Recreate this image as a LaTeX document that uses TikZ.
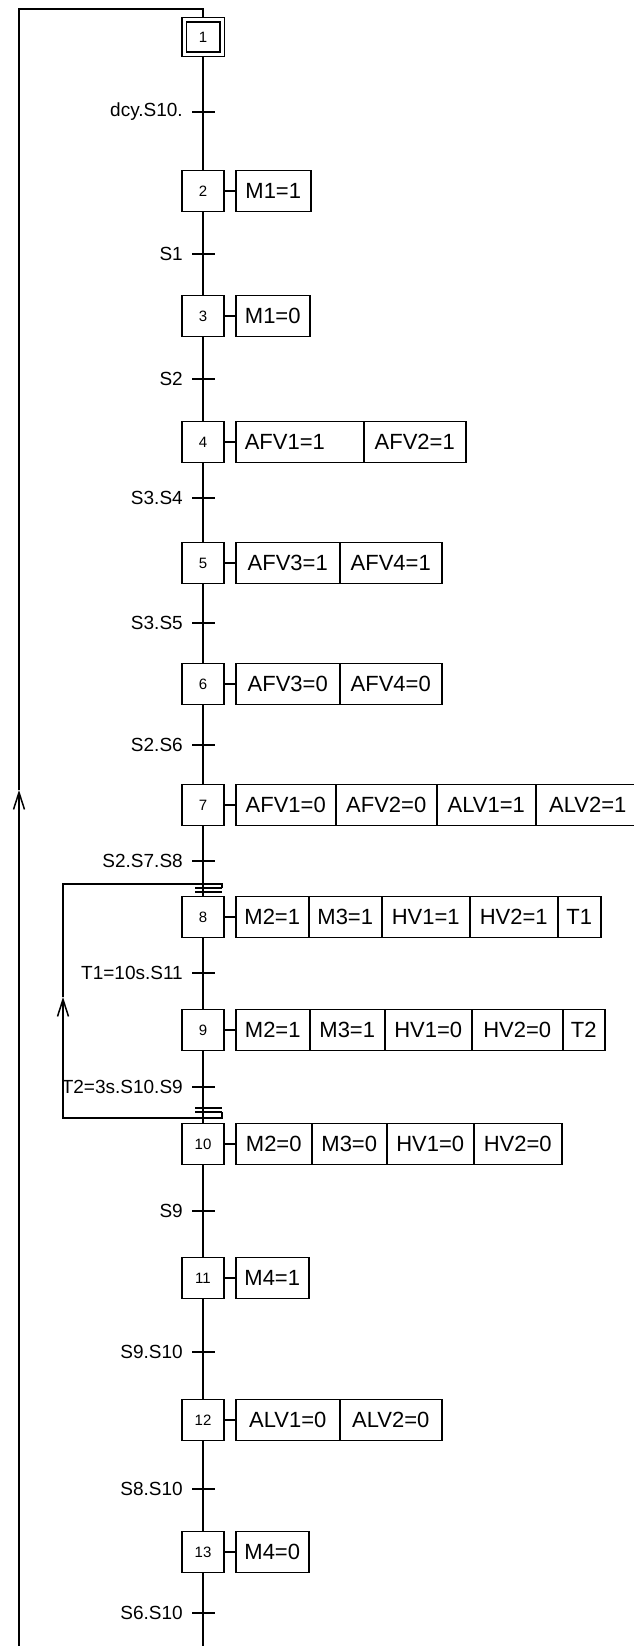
\documentclass[tikz,border=0pt]{standalone}
\usepackage{fontspec}
\setmainfont{Liberation Sans}
\usepackage{tikz}
\usetikzlibrary{arrows.meta,positioning}

\begin{document}
\begin{tikzpicture}[x=1pt, y=-1pt, line width=1.5pt,
    stepbox/.style={draw, line width=1.5pt, minimum width=42pt, minimum height=41pt, inner sep=0pt, font=\fontsize{15}{15}\selectfont},
    initbox/.style={stepbox, double, double distance=3pt, line width=1.3pt, minimum width=38pt, minimum height=34.5pt, outer sep=2.2pt},
    act/.style={draw, line width=1.5pt, minimum height=41pt, inner sep=0pt, outer sep=0pt, font=\fontsize{22}{22}\selectfont},
    trans/.style={fill, minimum width=23pt, minimum height=2pt, inner sep=0pt, outer sep=0pt},
    tlabel/.style={font=\fontsize{19}{19}\selectfont, inner sep=0pt, xshift=-8pt},
    jump/.style={minimum width=27pt, minimum height=4pt, inner sep=0pt, outer sep=0pt},
    back/.style={-{Straight Barb[length=17pt, width=11pt]}}
]
\useasboundingbox (0,0) rectangle (634,1646);

% steps
\node[initbox] (s1) at (203,37) {1};
\node[stepbox] (s2) at (203,191) {2};
\node[stepbox] (s3) at (203,316) {3};
\node[stepbox] (s4) at (203,442) {4};
\node[stepbox] (s5) at (203,563) {5};
\node[stepbox] (s6) at (203,684) {6};
\node[stepbox] (s7) at (203,805) {7};
\node[stepbox] (s8) at (203,917) {8};
\node[stepbox] (s9) at (203,1030) {9};
\node[stepbox] (s10) at (203,1144) {10};
\node[stepbox] (s11) at (203,1278) {11};
\node[stepbox] (s12) at (203,1420) {12};
\node[stepbox] (s13) at (203,1552) {13};

% transitions
\node[trans, label={[tlabel]left:{dcy.S10.}}] (t1) at (203,112) {};
\node[trans, label={[tlabel]left:{S1}}] (t2) at (203,254) {};
\node[trans, label={[tlabel]left:{S2}}] (t3) at (203,379) {};
\node[trans, label={[tlabel]left:{S3.S4}}] (t4) at (203,498) {};
\node[trans, label={[tlabel]left:{S3.S5}}] (t5) at (203,623) {};
\node[trans, label={[tlabel]left:{S2.S6}}] (t6) at (203,745) {};
\node[trans, label={[tlabel]left:{S2.S7.S8}}] (t7) at (203,861) {};
\node[trans, label={[tlabel]left:{T1=10s.S11}}] (t8) at (203,973) {};
\node[trans, label={[tlabel]left:{T2=3s.S10.S9}}] (t9) at (203,1087) {};
\node[trans, label={[tlabel]left:{S9}}] (t10) at (203,1211) {};
\node[trans, label={[tlabel]left:{S9.S10}}] (t11) at (203,1352) {};
\node[trans, label={[tlabel]left:{S8.S10}}] (t12) at (203,1489) {};
\node[trans, label={[tlabel]left:{S6.S10}}] (t13) at (203,1613) {};

% actions
\node[act, minimum width=75pt, right=11pt of s2] (a2) {M1=1};
\node[act, minimum width=74pt, right=11pt of s3] (a3) {M1=0};
\node[act, minimum width=128pt, right=11pt of s4] (a4) {\makebox[110pt][l]{AFV1=1}};
\node[act, minimum width=102pt, right=0pt of a4] (a4b) {AFV2=1};
\node[act, minimum width=104pt, right=11pt of s5] (a5) {AFV3=1};
\node[act, minimum width=102pt, right=0pt of a5] (a5b) {AFV4=1};
\node[act, minimum width=104pt, right=11pt of s6] (a6) {AFV3=0};
\node[act, minimum width=102pt, right=0pt of a6] (a6b) {AFV4=0};
\node[act, minimum width=100pt, right=11pt of s7] (a7) {AFV1=0};
\node[act, minimum width=101pt, right=0pt of a7] (a7b) {AFV2=0};
\node[act, minimum width=99pt, right=0pt of a7b] (a7c) {ALV1=1};
\node[act, minimum width=104pt, right=0pt of a7c] (a7d) {ALV2=1};
\node[act, minimum width=73pt, right=11pt of s8] (a8) {M2=1};
\node[act, minimum width=73pt, right=0pt of a8] (a8b) {M3=1};
\node[act, minimum width=88pt, right=0pt of a8b] (a8c) {HV1=1};
\node[act, minimum width=88pt, right=0pt of a8c] (a8d) {HV2=1};
\node[act, minimum width=43pt, right=0pt of a8d] (a8e) {T1};
\node[act, minimum width=74pt, right=11pt of s9] (a9) {M2=1};
\node[act, minimum width=75pt, right=0pt of a9] (a9b) {M3=1};
\node[act, minimum width=87pt, right=0pt of a9b] (a9c) {HV1=0};
\node[act, minimum width=91pt, right=0pt of a9c] (a9d) {HV2=0};
\node[act, minimum width=42pt, right=0pt of a9d] (a9e) {T2};
\node[act, minimum width=76pt, right=11pt of s10] (a10) {M2=0};
\node[act, minimum width=75pt, right=0pt of a10] (a10b) {M3=0};
\node[act, minimum width=87pt, right=0pt of a10b] (a10c) {HV1=0};
\node[act, minimum width=88pt, right=0pt of a10c] (a10d) {HV2=0};
\node[act, minimum width=73pt, right=11pt of s11] (a11) {M4=1};
\node[act, minimum width=104pt, right=11pt of s12] (a12) {ALV1=0};
\node[act, minimum width=102pt, right=0pt of a12] (a12b) {ALV2=0};
\node[act, minimum width=73pt, right=11pt of s13] (a13) {M4=0};

\foreach \i in {2,...,13}
    \draw (s\i) -- (a\i);

% jumps
\node[jump] (j8) at (208.5,890) {};
\node[jump] (j10) at (208.5,1110) {};
\draw (j8.north west) -- (j8.north east) (j8.south west) -- (j8.south east);
\draw (j10.north west) -- (j10.north east) (j10.south west) -- (j10.south east);

% main line
\coordinate (mb) at (203,1646);
\draw (s1) -- (t1) -- (s2) -- (t2) -- (s3) -- (t3) -- (s4) -- (t4) -- (s5)
    -- (t5) -- (s6) -- (t6) -- (s7) -- (t7) -- (s8) -- (t8) -- (s9) -- (t9)
    -- (s10) -- (t10) -- (s11) -- (t11) -- (s12) -- (t12) -- (s13) -- (t13) -- (mb);

% loop 9 -> 8
\coordinate (lb) at (63,1118);
\coordinate (la) at (63,997);
\coordinate (lt) at (63,884);
\draw[back] (j10.south east) |- (lb) -- (la);
\draw (la) -- (lt) -| (j8.north east);

% loop 13 -> 1
\coordinate (ob) at (19,1646);
\coordinate (oa) at (19,790);
\coordinate (ot) at (19,9);
\draw[back] (ob) -- (oa);
\draw (oa) -- (ot) -| (s1.north);
\end{tikzpicture}
\end{document}
